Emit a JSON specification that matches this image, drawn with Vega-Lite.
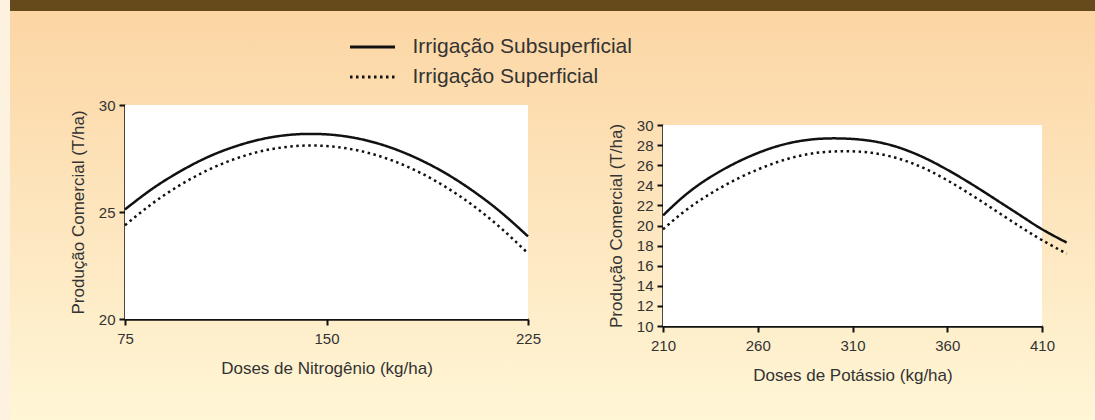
{
  "$schema": "https://vega.github.io/schema/vega-lite/v6.json",
  "width": 1085,
  "height": 420,
  "autosize": {"type": "none"},
  "padding": {"left": 10, "top": 0, "right": 0, "bottom": 0},
  "background": "#fdf1e0",
  "view": {
    "stroke": null,
    "fill": {
      "gradient": "linear",
      "x1": 0, "y1": 0, "x2": 0, "y2": 1,
      "stops": [
        {"offset": 0, "color": "#664a1b"},
        {"offset": 0.026, "color": "#664a1b"},
        {"offset": 0.027, "color": "#fcd6a4"},
        {"offset": 0.5, "color": "#fde5bd"},
        {"offset": 1, "color": "#fff6d6"}
      ]
    }
  },
  "config": {
    "font": "Liberation Sans",
    "axis": {
      "grid": false,
      "domainColor": "#111",
      "domainWidth": 2.5,
      "tickColor": "#111",
      "tickWidth": 2,
      "tickSize": 6,
      "labelFontSize": 15,
      "labelColor": "#333",
      "labelFlush": false,
      "labelOverlap": false,
      "titleFontSize": 17,
      "titleFontWeight": "normal",
      "titleColor": "#333",
      "zindex": 1
    },
    "axisX": {"labelPadding": 6, "titlePadding": 14},
    "axisY": {"labelPadding": 4, "titlePadding": 11}
  },
  "datasets": {
    "nitrogenio": [
      {"dose": 75, "prod": 25.12, "tipo": "Irrigação Subsuperficial"},
      {"dose": 85, "prod": 26.07, "tipo": "Irrigação Subsuperficial"},
      {"dose": 95, "prod": 26.86, "tipo": "Irrigação Subsuperficial"},
      {"dose": 105, "prod": 27.52, "tipo": "Irrigação Subsuperficial"},
      {"dose": 115, "prod": 28.02, "tipo": "Irrigação Subsuperficial"},
      {"dose": 125, "prod": 28.38, "tipo": "Irrigação Subsuperficial"},
      {"dose": 135, "prod": 28.59, "tipo": "Irrigação Subsuperficial"},
      {"dose": 145, "prod": 28.65, "tipo": "Irrigação Subsuperficial"},
      {"dose": 155, "prod": 28.57, "tipo": "Irrigação Subsuperficial"},
      {"dose": 165, "prod": 28.34, "tipo": "Irrigação Subsuperficial"},
      {"dose": 175, "prod": 27.96, "tipo": "Irrigação Subsuperficial"},
      {"dose": 185, "prod": 27.43, "tipo": "Irrigação Subsuperficial"},
      {"dose": 195, "prod": 26.76, "tipo": "Irrigação Subsuperficial"},
      {"dose": 205, "prod": 25.94, "tipo": "Irrigação Subsuperficial"},
      {"dose": 215, "prod": 24.98, "tipo": "Irrigação Subsuperficial"},
      {"dose": 225, "prod": 23.86, "tipo": "Irrigação Subsuperficial"},
      {"dose": 75, "prod": 24.38, "tipo": "Irrigação Superficial"},
      {"dose": 85, "prod": 25.38, "tipo": "Irrigação Superficial"},
      {"dose": 95, "prod": 26.22, "tipo": "Irrigação Superficial"},
      {"dose": 105, "prod": 26.91, "tipo": "Irrigação Superficial"},
      {"dose": 115, "prod": 27.44, "tipo": "Irrigação Superficial"},
      {"dose": 125, "prod": 27.82, "tipo": "Irrigação Superficial"},
      {"dose": 135, "prod": 28.04, "tipo": "Irrigação Superficial"},
      {"dose": 145, "prod": 28.11, "tipo": "Irrigação Superficial"},
      {"dose": 155, "prod": 28.02, "tipo": "Irrigação Superficial"},
      {"dose": 165, "prod": 27.78, "tipo": "Irrigação Superficial"},
      {"dose": 175, "prod": 27.38, "tipo": "Irrigação Superficial"},
      {"dose": 185, "prod": 26.83, "tipo": "Irrigação Superficial"},
      {"dose": 195, "prod": 26.12, "tipo": "Irrigação Superficial"},
      {"dose": 205, "prod": 25.26, "tipo": "Irrigação Superficial"},
      {"dose": 215, "prod": 24.24, "tipo": "Irrigação Superficial"},
      {"dose": 225, "prod": 23.07, "tipo": "Irrigação Superficial"}
    ],
    "potassio": [
      {"dose": 210, "prod": 21.0, "tipo": "Irrigação Subsuperficial"},
      {"dose": 220, "prod": 22.75, "tipo": "Irrigação Subsuperficial"},
      {"dose": 230, "prod": 24.2, "tipo": "Irrigação Subsuperficial"},
      {"dose": 240, "prod": 25.38, "tipo": "Irrigação Subsuperficial"},
      {"dose": 250, "prod": 26.38, "tipo": "Irrigação Subsuperficial"},
      {"dose": 260, "prod": 27.21, "tipo": "Irrigação Subsuperficial"},
      {"dose": 270, "prod": 27.87, "tipo": "Irrigação Subsuperficial"},
      {"dose": 280, "prod": 28.33, "tipo": "Irrigação Subsuperficial"},
      {"dose": 290, "prod": 28.59, "tipo": "Irrigação Subsuperficial"},
      {"dose": 300, "prod": 28.67, "tipo": "Irrigação Subsuperficial"},
      {"dose": 310, "prod": 28.61, "tipo": "Irrigação Subsuperficial"},
      {"dose": 320, "prod": 28.41, "tipo": "Irrigação Subsuperficial"},
      {"dose": 330, "prod": 28.01, "tipo": "Irrigação Subsuperficial"},
      {"dose": 340, "prod": 27.38, "tipo": "Irrigação Subsuperficial"},
      {"dose": 350, "prod": 26.55, "tipo": "Irrigação Subsuperficial"},
      {"dose": 360, "prod": 25.55, "tipo": "Irrigação Subsuperficial"},
      {"dose": 370, "prod": 24.45, "tipo": "Irrigação Subsuperficial"},
      {"dose": 380, "prod": 23.27, "tipo": "Irrigação Subsuperficial"},
      {"dose": 390, "prod": 22.05, "tipo": "Irrigação Subsuperficial"},
      {"dose": 400, "prod": 20.83, "tipo": "Irrigação Subsuperficial"},
      {"dose": 410, "prod": 19.63, "tipo": "Irrigação Subsuperficial"},
      {"dose": 423, "prod": 18.3, "tipo": "Irrigação Subsuperficial"},
      {"dose": 210, "prod": 19.62, "tipo": "Irrigação Superficial"},
      {"dose": 220, "prod": 21.22, "tipo": "Irrigação Superficial"},
      {"dose": 230, "prod": 22.57, "tipo": "Irrigação Superficial"},
      {"dose": 240, "prod": 23.72, "tipo": "Irrigação Superficial"},
      {"dose": 250, "prod": 24.72, "tipo": "Irrigação Superficial"},
      {"dose": 260, "prod": 25.57, "tipo": "Irrigação Superficial"},
      {"dose": 270, "prod": 26.29, "tipo": "Irrigação Superficial"},
      {"dose": 280, "prod": 26.84, "tipo": "Irrigação Superficial"},
      {"dose": 290, "prod": 27.2, "tipo": "Irrigação Superficial"},
      {"dose": 300, "prod": 27.37, "tipo": "Irrigação Superficial"},
      {"dose": 310, "prod": 27.38, "tipo": "Irrigação Superficial"},
      {"dose": 320, "prod": 27.23, "tipo": "Irrigação Superficial"},
      {"dose": 330, "prod": 26.88, "tipo": "Irrigação Superficial"},
      {"dose": 340, "prod": 26.3, "tipo": "Irrigação Superficial"},
      {"dose": 350, "prod": 25.5, "tipo": "Irrigação Superficial"},
      {"dose": 360, "prod": 24.5, "tipo": "Irrigação Superficial"},
      {"dose": 370, "prod": 23.37, "tipo": "Irrigação Superficial"},
      {"dose": 380, "prod": 22.16, "tipo": "Irrigação Superficial"},
      {"dose": 390, "prod": 20.92, "tipo": "Irrigação Superficial"},
      {"dose": 400, "prod": 19.7, "tipo": "Irrigação Superficial"},
      {"dose": 410, "prod": 18.55, "tipo": "Irrigação Superficial"},
      {"dose": 423, "prod": 17.19, "tipo": "Irrigação Superficial"}
    ]
  },
  "layer": [
    {
      "layer": [
        {
          "data": {"values": [{}]},
          "mark": {"type": "rect", "color": "white"},
          "encoding": {
            "x": {"datum": 75, "type": "quantitative"},
            "x2": {"datum": 225},
            "y": {"datum": 20, "type": "quantitative"},
            "y2": {"datum": 30}
          }
        },
        {
          "data": {"name": "nitrogenio"},
          "mark": {"type": "line", "color": "#111", "strokeWidth": 2.5, "interpolate": "natural"},
          "encoding": {
            "x": {
              "field": "dose", "type": "quantitative",
              "scale": {"domain": [75, 225], "range": [115, 518], "nice": false, "zero": false},
              "axis": {"orient": "bottom", "offset": -101, "values": [75, 150, 225], "title": "Doses de Nitrogênio (kg/ha)"}
            },
            "y": {
              "field": "prod", "type": "quantitative",
              "scale": {"domain": [20, 30], "range": [319, 105], "nice": false, "zero": false},
              "axis": {"orient": "left", "offset": -115, "values": [20, 25, 30], "title": "Produção Comercial (T/ha)"}
            },
            "strokeDash": {
              "field": "tipo", "type": "nominal",
              "scale": {"domain": ["Irrigação Subsuperficial", "Irrigação Superficial"], "range": [[1, 0], [2.5, 3.5]]},
              "legend": {
                "orient": "none", "legendX": 340, "legendY": 34, "direction": "vertical",
                "title": null, "padding": 0,
                "symbolType": "M-2,0L2,0", "symbolSize": 506, "symbolStrokeWidth": 3,
                "symbolStrokeColor": "#111", "symbolOffset": 9.5,
                "labelFontSize": 21, "labelColor": "#333", "labelOffset": 27, "labelLimit": 500,
                "rowPadding": 7
              }
            }
          }
        }
      ]
    },
    {
      "layer": [
        {
          "data": {"values": [{}]},
          "mark": {"type": "rect", "color": "white"},
          "encoding": {
            "x": {"datum": 210, "type": "quantitative"},
            "x2": {"datum": 410},
            "y": {"datum": 10, "type": "quantitative"},
            "y2": {"datum": 30}
          }
        },
        {
          "data": {"name": "potassio"},
          "mark": {"type": "line", "color": "#111", "strokeWidth": 2.5, "interpolate": "natural"},
          "encoding": {
            "x": {
              "field": "dose", "type": "quantitative",
              "scale": {"domain": [210, 410], "range": [653, 1032], "nice": false, "zero": false},
              "axis": {"orient": "bottom", "offset": -94, "values": [210, 260, 310, 360, 410], "title": "Doses de Potássio (kg/ha)"}
            },
            "y": {
              "field": "prod", "type": "quantitative",
              "scale": {"domain": [10, 30], "range": [326, 125], "nice": false, "zero": false},
              "axis": {"orient": "left", "offset": -653, "values": [10, 12, 14, 16, 18, 20, 22, 24, 26, 28, 30], "title": "Produção Comercial (T/ha)"}
            },
            "strokeDash": {"field": "tipo", "type": "nominal"}
          }
        }
      ]
    }
  ],
  "resolve": {
    "scale": {"x": "independent", "y": "independent"},
    "axis": {"x": "independent", "y": "independent"}
  }
}
